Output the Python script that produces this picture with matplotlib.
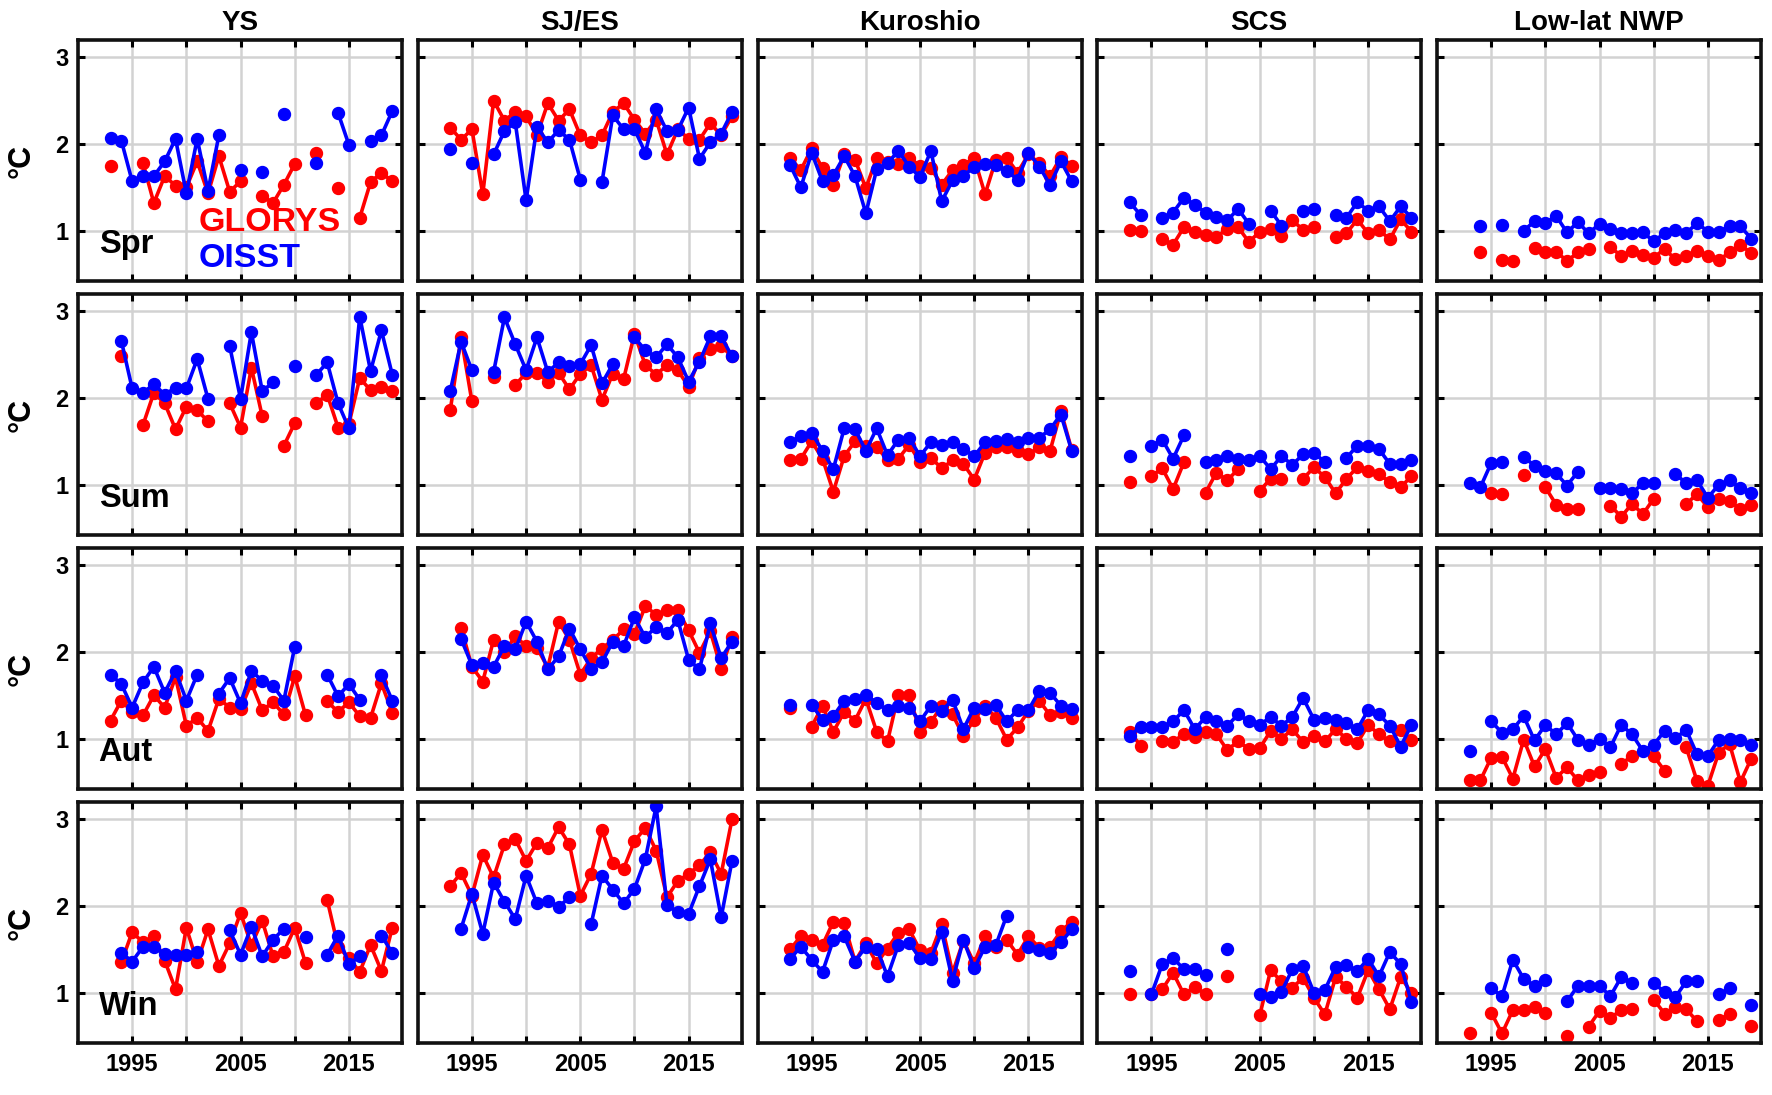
import numpy as np
import matplotlib
matplotlib.use('Agg')
import matplotlib.pyplot as plt

nan = np.nan

years = [1993, 1994, 1995, 1996, 1997, 1998, 1999, 2000, 2001, 2002, 2003, 2004, 2005, 2006,
         2007, 2008, 2009, 2010, 2011, 2012, 2013, 2014, 2015, 2016, 2017, 2018, 2019]
regions = ['YS', 'SJ/ES', 'Kuroshio', 'SCS', 'Low-lat NWP']
seasons = ['Spr', 'Sum', 'Aut', 'Win']
xtick_years = [1995, 2000, 2005, 2010, 2015]
xtick_labels = ['1995', '', '2005', '', '2015']
ytick_values = [1, 2, 3]
ytick_labels = ['1', '2', '3']
legend_labels = ['GLORYS', 'OISST']
unit_label = '°C'

# ---- YS ----
ys_spr_glorys = [1.75, nan, nan, 1.78, 1.32, 1.63, 1.52, 1.50, 1.80, 1.43, 1.86, 1.45, 1.57, nan, 1.40, 1.32, 1.53, 1.77, nan, 1.90, nan, 1.49, nan, 1.15, 1.56, 1.67, 1.57]
ys_spr_oisst = [2.07, 2.04, 1.57, 1.63, 1.63, 1.80, 2.06, 1.43, 2.06, 1.46, 2.10, nan, 1.70, nan, 1.68, nan, 2.35, nan, nan, 1.78, nan, 2.36, 1.99, nan, 2.03, 2.10, 2.38]
ys_sum_glorys = [nan, 2.48, nan, 1.69, 2.06, 1.94, 1.64, 1.90, 1.86, 1.73, nan, 1.94, 1.66, 2.35, 1.79, nan, 1.45, 1.71, nan, 1.94, 2.04, 1.66, 1.70, 2.23, 2.09, 2.13, 2.08]
ys_sum_oisst = [nan, 2.66, 2.11, 2.06, 2.16, 2.04, 2.12, 2.11, 2.45, 1.99, nan, 2.60, 1.99, 2.76, 2.08, 2.18, nan, 2.37, nan, 2.27, 2.41, 1.94, 1.65, 2.94, 2.31, 2.78, 2.27]
ys_aut_glorys = [1.21, 1.44, 1.31, 1.27, 1.50, 1.36, 1.71, 1.15, 1.24, 1.09, 1.46, 1.36, 1.34, 1.64, 1.33, 1.42, 1.28, 1.72, 1.27, nan, 1.43, 1.31, 1.42, 1.26, 1.24, 1.64, 1.30]
ys_aut_oisst = [1.74, 1.63, 1.36, 1.65, 1.83, 1.53, 1.78, 1.44, 1.74, nan, 1.52, 1.70, 1.41, 1.78, 1.67, 1.61, 1.44, 2.06, nan, nan, 1.74, 1.49, 1.63, 1.45, nan, 1.73, 1.44]
ys_win_glorys = [nan, 1.35, 1.70, 1.58, 1.65, 1.37, 1.04, 1.75, 1.35, 1.73, 1.31, 1.57, 1.92, 1.55, 1.83, 1.42, 1.47, 1.75, 1.34, nan, 2.07, 1.53, 1.40, 1.24, 1.55, 1.25, 1.75]
ys_win_oisst = [nan, 1.46, 1.36, 1.53, 1.53, 1.45, 1.44, 1.44, 1.47, nan, nan, 1.72, 1.44, 1.76, 1.42, 1.61, 1.74, nan, 1.64, nan, 1.44, 1.66, 1.33, 1.42, nan, 1.66, 1.46]

# ---- SJ/ES ----
sjes_spr_glorys = [2.19, 2.05, 2.17, 1.42, 2.50, 2.27, 2.37, 2.32, 2.10, 2.47, 2.27, 2.40, 2.10, 2.02, 2.10, 2.37, 2.47, 2.28, 2.12, 2.28, 1.88, 2.17, 2.06, 2.05, 2.24, 2.10, 2.32]
sjes_spr_oisst = [1.94, nan, 1.78, nan, 1.88, 2.15, 2.25, 1.35, 2.20, 2.02, 2.16, 2.05, 1.59, nan, 1.56, 2.33, 2.17, 2.17, 1.90, 2.40, 2.15, 2.16, 2.42, 1.83, 2.02, 2.12, 2.37]
sjes_sum_glorys = [1.86, 2.70, 1.96, nan, 2.24, nan, 2.15, 2.29, 2.29, 2.19, 2.29, 2.10, 2.28, 2.38, 1.98, 2.28, 2.22, 2.74, 2.38, 2.27, 2.38, 2.32, 2.13, 2.46, 2.57, 2.60, 2.48]
sjes_sum_oisst = [2.08, 2.65, 2.32, nan, 2.30, 2.93, 2.62, 2.32, 2.70, 2.30, 2.41, 2.37, 2.39, 2.61, 2.17, 2.39, nan, 2.70, 2.55, 2.47, 2.62, 2.47, 2.19, 2.42, 2.71, 2.71, 2.48]
sjes_aut_glorys = [nan, 2.28, 1.83, 1.66, 2.14, 2.00, 2.18, 2.07, 2.05, 1.82, 2.35, 2.14, 1.74, 1.93, 2.04, 2.14, 2.26, 2.21, 2.53, 2.43, 2.48, 2.48, 2.25, 1.99, 2.24, 1.81, 2.17]
sjes_aut_oisst = [nan, 2.15, 1.85, 1.87, 1.83, 2.07, 2.03, 2.35, 2.12, 1.80, 1.95, 2.27, 2.03, 1.81, 1.88, 2.12, 2.07, 2.40, 2.17, 2.29, 2.22, 2.37, 1.91, 1.80, 2.33, 1.93, 2.12]
sjes_win_glorys = [2.23, 2.38, 2.12, 2.59, 2.33, 2.71, 2.77, 2.52, 2.73, 2.67, 2.91, 2.71, 2.12, 2.37, 2.88, 2.50, 2.43, 2.75, 2.90, 2.64, 2.10, 2.29, 2.37, 2.47, 2.62, 2.37, 3.00]
sjes_win_oisst = [nan, 1.74, 2.14, 1.68, 2.27, 2.05, 1.85, 2.35, 2.03, 2.06, 1.99, 2.10, nan, 1.79, 2.35, 2.19, 2.03, 2.20, 2.54, 3.15, 2.01, 1.93, 1.91, 2.23, 2.54, 1.87, 2.52]

# ---- Kuroshio ----
kur_spr_glorys = [1.84, 1.70, 1.95, 1.72, 1.53, 1.88, 1.82, 1.49, 1.84, 1.79, 1.77, 1.84, 1.75, 1.72, 1.53, 1.70, 1.76, 1.84, 1.42, 1.82, 1.84, 1.67, 1.88, 1.78, 1.63, 1.85, 1.75]
kur_spr_oisst = [1.76, 1.50, 1.90, 1.57, 1.64, 1.86, 1.63, 1.20, 1.71, 1.78, 1.92, 1.74, 1.62, 1.92, 1.34, 1.58, 1.63, 1.74, 1.77, 1.76, 1.69, 1.59, 1.90, 1.74, 1.53, 1.80, 1.57]
kur_sum_glorys = [1.29, 1.30, 1.50, 1.30, 0.92, 1.33, 1.50, 1.45, 1.43, 1.29, 1.30, 1.46, 1.26, 1.31, 1.19, 1.28, 1.24, 1.06, 1.37, 1.43, 1.43, 1.39, 1.35, 1.43, 1.39, 1.85, 1.40]
kur_sum_oisst = [1.49, 1.56, 1.60, 1.39, 1.18, 1.65, 1.64, 1.39, 1.65, 1.34, 1.52, 1.54, 1.33, 1.49, 1.46, 1.49, 1.41, 1.33, 1.49, 1.50, 1.53, 1.49, 1.54, 1.54, 1.64, 1.81, 1.39]
kur_aut_glorys = [1.36, nan, 1.14, 1.38, 1.08, 1.31, 1.21, 1.46, 1.08, 0.97, 1.51, 1.50, 1.08, 1.19, 1.38, 1.28, 1.03, 1.22, 1.38, 1.24, 0.99, 1.13, 1.32, 1.44, 1.27, 1.31, 1.24]
kur_aut_oisst = [1.39, nan, 1.39, 1.22, 1.26, 1.44, 1.46, 1.51, 1.41, 1.33, 1.38, 1.36, 1.20, 1.38, 1.32, 1.45, 1.11, 1.36, 1.34, 1.39, 1.20, 1.33, 1.33, 1.55, 1.53, 1.38, 1.34]
kur_win_glorys = [1.50, 1.65, 1.61, 1.55, 1.82, 1.80, 1.36, 1.57, 1.34, 1.51, 1.69, 1.73, 1.49, 1.46, 1.79, 1.23, 1.60, 1.34, 1.65, 1.53, 1.61, 1.44, 1.65, 1.52, 1.53, 1.71, 1.82]
kur_win_oisst = [1.39, 1.53, 1.38, 1.24, 1.61, 1.65, 1.36, 1.53, 1.51, 1.19, 1.55, 1.57, 1.40, 1.39, 1.70, 1.14, 1.61, 1.28, 1.53, 1.55, 1.89, nan, 1.53, 1.49, 1.46, 1.58, 1.73]

# ---- SCS ----
scs_spr_glorys = [1.01, 1.00, nan, 0.90, 0.84, 1.04, 0.99, 0.95, 0.93, 1.02, 1.04, 0.87, 0.99, 1.02, 0.94, 1.12, 1.01, 1.04, nan, 0.93, 0.97, 1.13, 0.97, 1.01, 0.90, 1.13, 0.99]
scs_spr_oisst = [1.33, 1.18, nan, 1.15, 1.21, 1.38, 1.30, 1.21, 1.16, 1.12, 1.25, 1.08, nan, 1.23, 1.06, nan, 1.23, 1.25, nan, 1.18, 1.15, 1.33, 1.23, 1.28, 1.11, 1.28, 1.15]
scs_sum_glorys = [1.03, nan, 1.10, 1.19, 0.95, 1.26, nan, 0.91, 1.14, 1.05, 1.18, nan, 0.93, 1.07, 1.07, nan, 1.07, 1.20, 1.09, 0.90, 1.07, 1.20, 1.16, 1.12, 1.03, 0.97, 1.10]
scs_sum_oisst = [1.33, nan, 1.45, 1.52, 1.30, 1.57, nan, 1.26, 1.29, 1.33, 1.30, 1.29, 1.33, 1.18, 1.33, 1.23, 1.35, 1.37, 1.26, nan, 1.31, 1.45, 1.45, 1.41, 1.24, 1.24, 1.29]
scs_aut_glorys = [1.08, 0.92, nan, 0.97, 0.96, 1.06, 1.02, 1.08, 1.05, 0.87, 0.97, 0.88, 0.89, 1.09, 1.00, 1.11, 0.96, 1.03, 0.97, 1.11, 1.00, 0.95, 1.16, 1.05, 0.97, 1.10, 0.98]
scs_aut_oisst = [1.03, 1.14, 1.14, 1.14, 1.20, 1.33, 1.11, 1.25, 1.20, 1.15, 1.28, 1.20, 1.16, 1.25, 1.15, 1.25, 1.47, 1.22, 1.24, 1.22, 1.18, 1.11, 1.33, 1.28, 1.15, 0.91, 1.16]
scs_win_glorys = [0.98, nan, 0.98, 1.04, 1.23, 0.98, 1.07, 0.98, nan, 1.19, nan, nan, 0.74, 1.26, 1.13, 1.06, 1.17, 0.94, 0.75, 1.18, 1.07, 0.94, 1.26, 1.04, 0.81, 1.18, 1.00]
scs_win_oisst = [1.25, nan, 0.98, 1.33, 1.40, 1.27, 1.27, 1.21, nan, 1.50, nan, nan, 0.98, 0.95, 1.01, 1.27, 1.31, 1.00, 1.03, 1.30, 1.32, 1.25, 1.39, 1.19, 1.47, 1.33, 0.89]

# ---- Low-lat NWP ----
nwp_spr_glorys = [nan, 0.76, nan, 0.66, 0.65, nan, 0.80, 0.76, 0.76, 0.65, 0.75, 0.79, nan, 0.81, 0.71, 0.77, 0.72, 0.69, 0.79, 0.67, 0.71, 0.77, 0.71, 0.66, 0.75, 0.84, 0.74]
nwp_spr_oisst = [nan, 1.05, nan, 1.07, nan, 1.00, 1.11, 1.09, 1.17, 0.98, 1.10, 0.97, 1.08, 1.02, 0.97, 0.97, 0.98, 0.88, 0.97, 1.01, 0.97, 1.09, 0.99, 0.98, 1.06, 1.05, 0.91]
nwp_sum_glorys = [nan, nan, 0.90, 0.89, nan, 1.11, nan, 0.97, 0.77, 0.72, 0.72, nan, nan, 0.76, 0.63, 0.78, 0.66, 0.84, nan, nan, 0.78, 0.89, 0.74, 0.84, 0.81, 0.72, 0.77]
nwp_sum_oisst = [1.02, 0.97, 1.25, 1.26, nan, 1.32, 1.22, 1.16, 1.13, 0.99, 1.15, nan, 0.96, 0.96, 0.95, 0.90, 1.02, 1.02, nan, 1.12, 1.02, 1.05, 0.85, 1.00, 1.05, 0.96, 0.91]
nwp_aut_glorys = [0.52, 0.52, 0.78, 0.79, 0.54, 0.99, 0.68, 0.88, 0.55, 0.67, 0.52, 0.58, 0.62, nan, 0.71, 0.80, nan, 0.80, 0.63, nan, 0.90, 0.51, 0.46, 0.84, 0.94, 0.50, 0.77]
nwp_aut_oisst = [0.86, nan, 1.20, 1.07, 1.11, 1.26, 0.98, 1.16, 1.05, 1.18, 0.99, 0.93, 1.00, 0.90, 1.16, 1.05, 0.86, 0.93, 1.09, 1.01, 1.10, 0.82, 0.80, 0.99, 1.00, 0.98, 0.93]
nwp_win_glorys = [0.53, nan, 0.77, 0.53, 0.80, 0.80, 0.84, 0.77, nan, 0.50, nan, 0.61, 0.79, 0.71, 0.80, 0.81, nan, 0.92, 0.76, 0.83, 0.81, 0.67, nan, 0.68, 0.76, nan, 0.62]
nwp_win_oisst = [nan, nan, 1.05, 0.96, 1.38, 1.16, 1.08, 1.15, nan, 0.90, 1.08, 1.08, 1.08, 0.96, 1.18, 1.11, nan, 1.11, 1.01, 0.95, 1.13, 1.14, nan, 0.98, 1.05, nan, 0.86]

glorys = {
    'YS': [ys_spr_glorys, ys_sum_glorys, ys_aut_glorys, ys_win_glorys],
    'SJ/ES': [sjes_spr_glorys, sjes_sum_glorys, sjes_aut_glorys, sjes_win_glorys],
    'Kuroshio': [kur_spr_glorys, kur_sum_glorys, kur_aut_glorys, kur_win_glorys],
    'SCS': [scs_spr_glorys, scs_sum_glorys, scs_aut_glorys, scs_win_glorys],
    'Low-lat NWP': [nwp_spr_glorys, nwp_sum_glorys, nwp_aut_glorys, nwp_win_glorys],
}
oisst = {
    'YS': [ys_spr_oisst, ys_sum_oisst, ys_aut_oisst, ys_win_oisst],
    'SJ/ES': [sjes_spr_oisst, sjes_sum_oisst, sjes_aut_oisst, sjes_win_oisst],
    'Kuroshio': [kur_spr_oisst, kur_sum_oisst, kur_aut_oisst, kur_win_oisst],
    'SCS': [scs_spr_oisst, scs_sum_oisst, scs_aut_oisst, scs_win_oisst],
    'Low-lat NWP': [nwp_spr_oisst, nwp_sum_oisst, nwp_aut_oisst, nwp_win_oisst],
}

plt.rcParams['font.family'] = ['Liberation Sans', 'DejaVu Sans']
plt.rcParams['font.weight'] = 'bold'

RED = '#ff0000'
BLUE = '#0000ff'

W, H = 1772, 1095
fig = plt.figure(figsize=(W / 100, H / 100), dpi=100)
fig.patch.set_facecolor('white')

left0, pitchx, wpx = 78, 339.75, 324
top0, pitchy, hpx = 40, 254, 241

for r, season in enumerate(seasons):
    for c, region in enumerate(regions):
        l = left0 + c * pitchx
        t = top0 + r * pitchy
        ax = fig.add_axes([l / W, 1 - (t + hpx) / H, wpx / W, hpx / H])
        ax.set_xlim(1990.0, 2019.9)
        ax.set_ylim(0.42, 3.2)
        ax.set_xticks(xtick_years)
        ax.set_yticks(ytick_values)
        ax.grid(True, color='#d2d2d2', lw=1.8)
        ax.set_axisbelow(True)

        ax.plot(years, glorys[region][r], '-o', color=RED, lw=2.6, ms=8.6, zorder=3)
        ax.plot(years, oisst[region][r], '-o', color=BLUE, lw=2.6, ms=8.6, zorder=4)

        ax.tick_params(direction='in', top=True, right=True, length=5, width=2.2,
                       labelsize=17, pad=7, color='black')
        if r == 3:
            ax.set_xticklabels(xtick_labels, fontweight='bold')
        else:
            ax.set_xticklabels([])
        if c == 0:
            ax.set_yticklabels(ytick_labels, fontweight='bold')
            ax.text(1991.9, 0.84, season, fontsize=23.5, fontweight='bold',
                    ha='left', va='center', zorder=5)
        else:
            ax.set_yticklabels([])
        for sp in ax.spines.values():
            sp.set_linewidth(2.6)
            sp.set_color('#111111')
            sp.set_zorder(6)
        if r == 0:
            ax.set_title(region, fontsize=20, fontweight='bold', pad=7)
        if r == 0 and c == 0:
            ax.text(2001.1, 1.09, legend_labels[0], color=RED, fontsize=24.5,
                    fontweight='bold', ha='left', va='center', zorder=5)
            ax.text(2001.1, 0.68, legend_labels[1], color=BLUE, fontsize=24.5,
                    fontweight='bold', ha='left', va='center', zorder=5)
    fig.text(22 / W, 1 - (top0 + r * pitchy + hpx / 2) / H, unit_label,
             rotation=90, fontsize=22, fontweight='bold', ha='center', va='center')

fig.savefig('out.png', dpi=100, facecolor='white')
